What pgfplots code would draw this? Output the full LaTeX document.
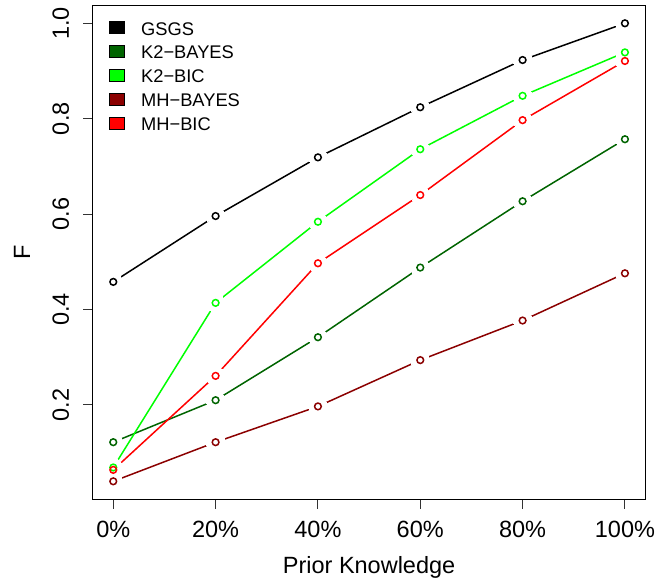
\documentclass[border=0pt]{standalone}
\usepackage{fontspec}
\setmainfont{Liberation Sans}
\usepackage{pgfplots}
\usepackage{pgfplotstable}
\pgfplotsset{compat=1.18}
\definecolor{cgsgs}{RGB}{0,0,0}
\definecolor{ck2bayes}{RGB}{0,100,0}
\definecolor{ck2bic}{RGB}{0,255,0}
\definecolor{cmhbayes}{RGB}{139,0,0}
\definecolor{cmhbic}{RGB}{255,0,0}

\pgfplotstableread{
x   gsgs  k2bayes k2bic mhbayes mhbic
0   0.458 0.122   0.069 0.040   0.064
20  0.596 0.210   0.414 0.122   0.261
40  0.719 0.342   0.584 0.197   0.497
60  0.824 0.488   0.736 0.294   0.640
80  0.923 0.627   0.848 0.377   0.797
100 1.000 0.757   0.939 0.476   0.921
}\datatable

\pgfplotsset{
  seg/.style={forget plot, mark=none, draw=#1, line width=1.5pt},
  halo/.style={forget plot, only marks, mark=*, mark size=9.3pt, color=white,
    mark options={fill=white, draw=white, line width=0pt}},
  circ/.style={forget plot, only marks, mark=o, mark size=3.35pt, color=#1,
    mark options={draw=#1, line width=1.5pt}},
  legbox/.style={legend image code/.code={
    \fill[#1, draw=none] (0pt,0pt) rectangle (14.7pt,12pt);
    \draw[black, line width=0.6pt] (0pt,0pt) rectangle (14.7pt,12pt);
    \path[draw=none, fill=none] (0pt,0pt) -- (31.5pt,0pt);}},
}

\begin{document}
\begin{tikzpicture}
\begin{axis}[
  at={(0,0)}, anchor=south west,
  scale only axis, width=552.6pt, height=494pt,
  xmin=-4, xmax=104, ymin=0.0023, ymax=1.0377,
  xtick={0,20,40,60,80,100},
  xticklabels={0\%,20\%,40\%,60\%,80\%,100\%},
  ytick={0.2,0.4,0.6,0.8,1.0},
  yticklabels={0.2,0.4,0.6,0.8,1.0},
  tick pos=left, tick align=outside, major tick length=9.5pt,
  axis line style={line width=1pt, black},
  every tick/.style={line width=1pt, black!80},
  ticklabel style={font=\fontsize{23.5}{28}\selectfont, inner sep=0pt},
  xticklabel style={anchor=base, yshift=-28.5pt},
  yticklabel style={rotate=90, anchor=base, yshift=14.5pt},
  xlabel={Prior Knowledge}, ylabel={F},
  label style={font=\fontsize{23.5}{28}\selectfont, inner sep=0pt},
  xlabel style={at={(axis description cs:0.5,-0.1498)}, anchor=base},
  ylabel style={at={(axis description cs:-0.1135,0.5)}, anchor=base, rotate=0},
  legend style={at={(axis description cs:0.0299,0.9676)}, anchor=north west,
    draw=none, fill=none, inner sep=0pt, outer sep=0pt, row sep=0pt,
    font=\fontsize{18.3}{22}\selectfont,
    nodes={inner sep=0pt, text height=13pt, text depth=10.1pt}},
  legend cell align=left,
]
\addlegendimage{legbox=cgsgs}\addlegendentry{GSGS}
\addlegendimage{legbox=ck2bayes}\addlegendentry{K2\textminus BAYES}
\addlegendimage{legbox=ck2bic}\addlegendentry{K2\textminus BIC}
\addlegendimage{legbox=cmhbayes}\addlegendentry{MH\textminus BAYES}
\addlegendimage{legbox=cmhbic}\addlegendentry{MH\textminus BIC}

% lines
\addplot[seg=cgsgs]    table[x=x,y=gsgs]{\datatable};
\addplot[seg=ck2bayes] table[x=x,y=k2bayes]{\datatable};
\addplot[seg=ck2bic]   table[x=x,y=k2bic]{\datatable};
\addplot[seg=cmhbayes] table[x=x,y=mhbayes]{\datatable};
\addplot[seg=cmhbic]   table[x=x,y=mhbic]{\datatable};
% gaps round the points (as R's type = "b")
\addplot[halo] table[x=x,y=gsgs]{\datatable};
\addplot[halo] table[x=x,y=k2bayes]{\datatable};
\addplot[halo] table[x=x,y=k2bic]{\datatable};
\addplot[halo] table[x=x,y=mhbayes]{\datatable};
\addplot[halo] table[x=x,y=mhbic]{\datatable};
% circles
\addplot[circ=cgsgs]    table[x=x,y=gsgs]{\datatable};
\addplot[circ=ck2bayes] table[x=x,y=k2bayes]{\datatable};
\addplot[circ=ck2bic]   table[x=x,y=k2bic]{\datatable};
\addplot[circ=cmhbayes] table[x=x,y=mhbayes]{\datatable};
\addplot[circ=cmhbic]   table[x=x,y=mhbic]{\datatable};
\end{axis}
\pgfresetboundingbox
\path[use as bounding box] (-92.8pt,-84.7pt) rectangle (564.2pt,499.3pt);
\end{tikzpicture}
\end{document}
